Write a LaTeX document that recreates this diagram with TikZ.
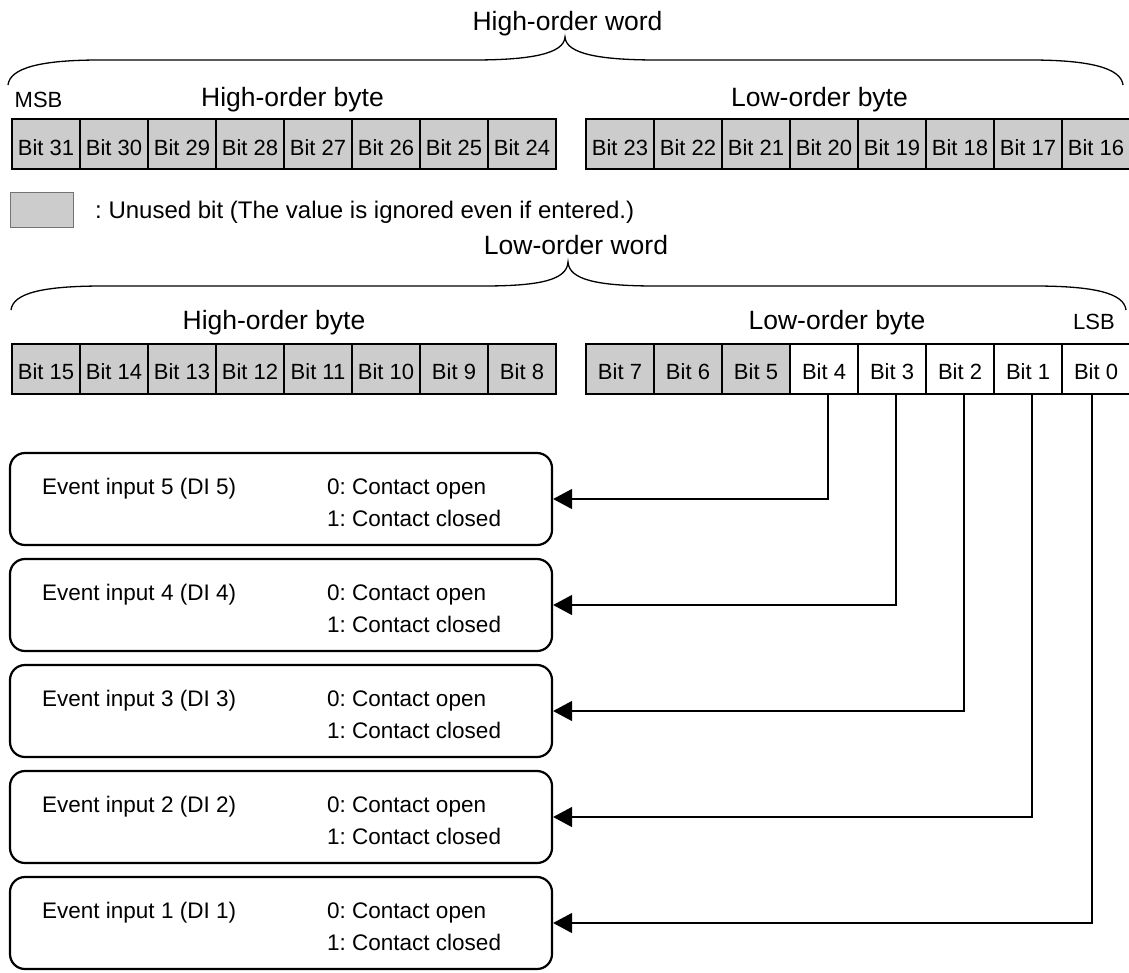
\documentclass[tikz,border=0pt]{standalone}
\usepackage{fontspec}
\setmainfont{Liberation Sans}
\usetikzlibrary{arrows.meta}
\definecolor{unused}{RGB}{204,204,204}
\newcommand{\FBig}{\fontsize{26.5}{30}\selectfont}
\newcommand{\FLeg}{\fontsize{24}{28}\selectfont}
\newcommand{\FNorm}{\fontsize{22}{26}\selectfont}
\newcommand{\FEv}{\fontsize{22.5}{26}\selectfont}
\frenchspacing
\begin{document}
\begin{tikzpicture}[x=1pt,y=-1pt,
  cell/.style={draw, line width=2pt, minimum width=68pt, minimum height=50pt,
    inner sep=0pt, text height=22pt, text depth=0pt, font=\FNorm},
  ucell/.style={cell, fill=unused},
  lbl/.style={inner sep=0pt, anchor=base},
  big/.style={lbl, font=\FBig},
  small/.style={lbl, font=\FNorm},
  evbox/.style={draw, line width=2.2pt, rounded corners=15pt, minimum width=542pt,
    minimum height=92pt, inner sep=0pt},
  evtext/.style={inner sep=0pt, anchor=base west, font=\FEv},
  conn/.style={line width=1.3pt, -{Triangle[length=19pt,width=20pt]}},
  brace/.style={line width=1.3pt}
]
\useasboundingbox (0,0) rectangle (1129,972);

% ---------- High-order word ----------
\node[big] (hw) at (567.5,30) {High-order word};
\draw[brace] (8,85) .. controls (10,68) and (40,60) .. (100,60) -- (473,60)
  .. controls (530,60) and (564,54) .. (565,37)
  .. controls (566,54) and (600,60) .. (657,60) -- (1030,60)
  .. controls (1090,60) and (1121,68) .. (1123,85);
\node[small, anchor=base west] (msb) at (14.5,107) {MSB};
\node[big] (hb1) at (292.5,106) {High-order byte};
\node[big] (lb1) at (819.5,106) {Low-order byte};

\foreach \b [count=\i from 0] in {31,30,...,24}
  \node[ucell] (b\b) at ({46+68*\i},144) {Bit \b};
\foreach \b [count=\i from 0] in {23,22,...,16}
  \node[ucell] (b\b) at ({620+68*\i},144) {Bit \b};

% ---------- legend ----------
\node[draw=black!55, line width=1pt, fill=unused, minimum width=63pt,
  minimum height=35pt, inner sep=0pt] (leg) at (41.5,209.5) {};
\node[inner sep=0pt, anchor=base west, font=\FLeg] (legtext) at (95,218)
  {: Unused bit (The value is ignored even if entered.)};

% ---------- Low-order word ----------
\node[big] (lw) at (576,254) {Low-order word};
\draw[brace] (11,310) .. controls (13,293) and (43,286) .. (103,286) -- (483,286)
  .. controls (540,286) and (567,280) .. (568,262)
  .. controls (569,280) and (598,286) .. (656,286) -- (1034,286)
  .. controls (1094,286) and (1124,293) .. (1126,310);
\node[big] (hb2) at (274,329) {High-order byte};
\node[big] (lb2) at (837,329) {Low-order byte};
\node[small, anchor=base west] (lsb) at (1073,329) {LSB};

\foreach \b [count=\i from 0] in {15,14,...,8}
  \node[ucell] (b\b) at ({46+68*\i},368.5) {Bit \b};
\foreach \b [count=\i from 0] in {7,6,5}
  \node[ucell] (b\b) at ({620+68*\i},368.5) {Bit \b};
\foreach \b [count=\i from 3] in {4,3,...,0}
  \node[cell] (b\b) at ({620+68*\i},368.5) {Bit \b};

% ---------- event inputs ----------
\foreach \n/\b/\dx [count=\k from 0] in {5/4/4,4/3/4,3/2/4,2/1/4,1/0/-4}{
  \node[evbox] (ev\n) at (281,{499+106*\k}) {};
  \node[evtext] (evn\n) at (42,{494+106*\k}) {Event input \n\ (DI \n)};
  \node[evtext] (evo\n) at (327,{494+106*\k}) {0: Contact open};
  \node[evtext] (evc\n) at (327,{526+106*\k}) {1: Contact closed};
  \draw[conn] ([xshift=\dx pt]b\b.south) |- (ev\n.east);
}
\end{tikzpicture}
\end{document}
